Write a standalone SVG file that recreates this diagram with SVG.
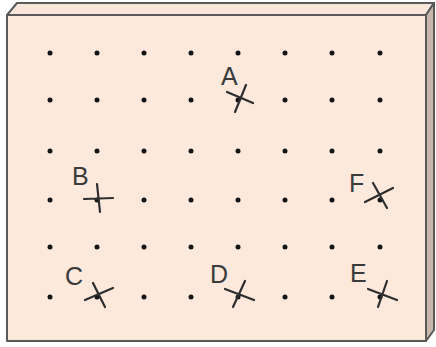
<svg xmlns="http://www.w3.org/2000/svg" width="436" height="347" viewBox="0 0 436 347">
<style>
.edge{stroke:#5a5a5a;stroke-width:2;stroke-linejoin:round}
.dot{fill:#151515}
.x{stroke:#2e2e2e;stroke-width:2.2;stroke-linecap:round;fill:none}
.lbl{font-family:"Liberation Sans",Arial,sans-serif;font-size:25px;fill:#3a3a3a}
</style>
<rect width="436" height="347" fill="#ffffff"/>
<g id="board">
<polygon class="edge" points="7,15 17,3 434,3 426,15" fill="#f8e7da"/>
<polygon class="edge" points="426,15 434,3 434,330 426,341" fill="#c8b7aa"/>
<rect class="edge" x="7" y="15" width="419" height="326" fill="#fce9db"/>
</g>
<g id="dots">
<g class="dot">
<circle cx="50" cy="53" r="2.5"/><circle cx="97" cy="53" r="2.5"/><circle cx="144" cy="53" r="2.5"/><circle cx="191" cy="53" r="2.5"/><circle cx="238" cy="53" r="2.5"/><circle cx="285" cy="53" r="2.5"/><circle cx="332" cy="53" r="2.5"/><circle cx="380" cy="53" r="2.5"/>
<circle cx="50" cy="100" r="2.5"/><circle cx="97" cy="100" r="2.5"/><circle cx="144" cy="100" r="2.5"/><circle cx="191" cy="100" r="2.5"/><circle cx="238" cy="100" r="2.5"/><circle cx="285" cy="100" r="2.5"/><circle cx="332" cy="100" r="2.5"/><circle cx="380" cy="100" r="2.5"/>
<circle cx="50" cy="151" r="2.5"/><circle cx="97" cy="151" r="2.5"/><circle cx="144" cy="151" r="2.5"/><circle cx="191" cy="151" r="2.5"/><circle cx="238" cy="151" r="2.5"/><circle cx="285" cy="151" r="2.5"/><circle cx="332" cy="151" r="2.5"/><circle cx="380" cy="151" r="2.5"/>
<circle cx="50" cy="200" r="2.5"/><circle cx="97" cy="200" r="2.5"/><circle cx="144" cy="200" r="2.5"/><circle cx="191" cy="200" r="2.5"/><circle cx="238" cy="200" r="2.5"/><circle cx="285" cy="200" r="2.5"/><circle cx="332" cy="200" r="2.5"/><circle cx="380" cy="200" r="2.5"/>
<circle cx="50" cy="247" r="2.5"/><circle cx="97" cy="247" r="2.5"/><circle cx="144" cy="247" r="2.5"/><circle cx="191" cy="247" r="2.5"/><circle cx="238" cy="247" r="2.5"/><circle cx="285" cy="247" r="2.5"/><circle cx="332" cy="247" r="2.5"/><circle cx="380" cy="247" r="2.5"/>
<circle cx="50" cy="297" r="2.5"/><circle cx="97" cy="297" r="2.5"/><circle cx="144" cy="297" r="2.5"/><circle cx="191" cy="297" r="2.5"/><circle cx="238" cy="297" r="2.5"/><circle cx="285" cy="297" r="2.5"/><circle cx="332" cy="297" r="2.5"/><circle cx="380" cy="297" r="2.5"/>
</g>
</g>
<g id="A"><path class="x" d="M227,92 L253,103 M246,85 L235,112"/><text class="lbl" x="221" y="85">A</text></g>
<g id="B"><path class="x" d="M84,199 L113,198 M97,184 L100,212"/><text class="lbl" x="72" y="185">B</text></g>
<g id="C"><path class="x" d="M85,300 L113,288 M93,283 L105,307"/><text class="lbl" x="65" y="285">C</text></g>
<g id="D"><path class="x" d="M225,289 L254,300 M245,281 L233,307"/><text class="lbl" x="210" y="283">D</text></g>
<g id="E"><path class="x" d="M368,289 L397,300 M387,281 L378,307"/><text class="lbl" x="350" y="282">E</text></g>
<g id="F"><path class="x" d="M365,202 L393,188 M373,183 L387,208"/><text class="lbl" x="349" y="192">F</text></g>
</svg>
